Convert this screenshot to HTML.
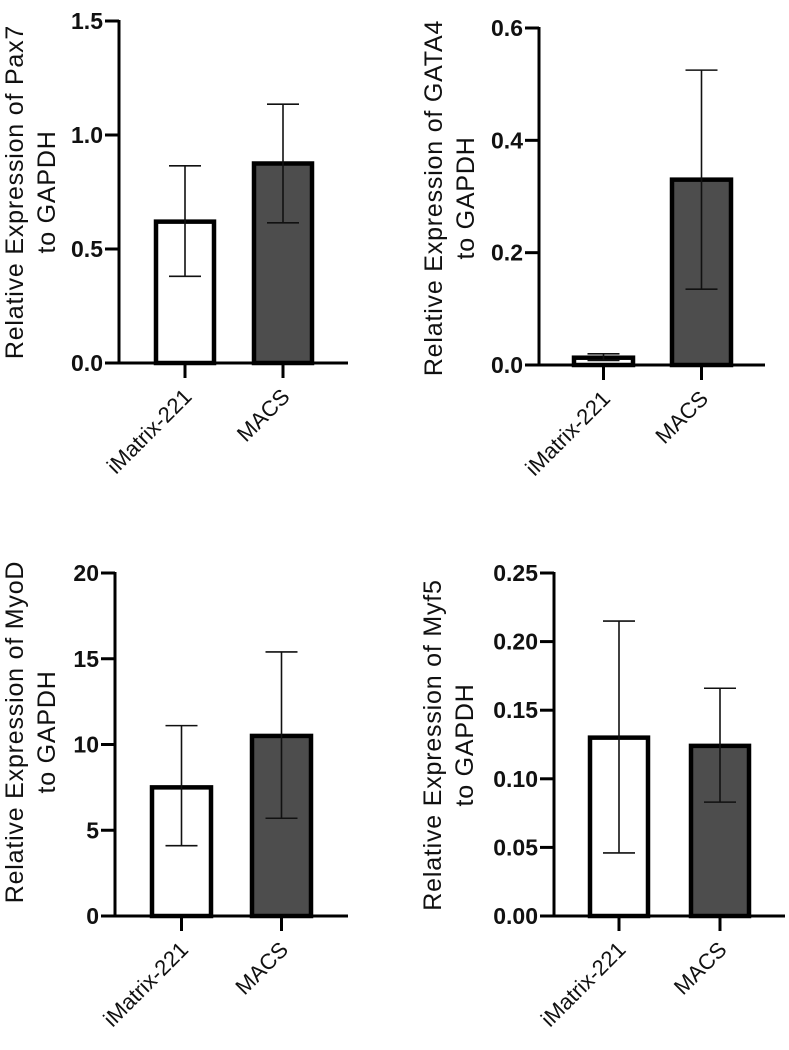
<!DOCTYPE html>
<html><head><meta charset="utf-8">
<style>
body{margin:0;background:#fff;}
svg{display:block;font-family:"Liberation Sans",Arial,sans-serif;}
</style></head>
<body>
<svg id="fig" width="789" height="1050" viewBox="0 0 789 1050"></svg>
<script>
const categories = ["iMatrix-221", "MACS"];
const pax7Means = [0.62, 0.875];
const pax7Low = [0.38, 0.615];
const pax7High = [0.865, 1.135];
const pax7Ticks = ["0.0", "0.5", "1.0", "1.5"];
const gata4Means = [0.013, 0.33];
const gata4Low = [0.008, 0.135];
const gata4High = [0.02, 0.525];
const gata4Ticks = ["0.0", "0.2", "0.4", "0.6"];
const myodMeans = [7.5, 10.5];
const myodLow = [4.1, 5.7];
const myodHigh = [11.1, 15.4];
const myodTicks = ["0", "5", "10", "15", "20"];
const myf5Means = [0.13, 0.124];
const myf5Low = [0.046, 0.083];
const myf5High = [0.215, 0.166];
const myf5Ticks = ["0.00", "0.05", "0.10", "0.15", "0.20", "0.25"];

const NS = "http://www.w3.org/2000/svg";
const svg = document.getElementById("fig");
function mk(tag, attrs, parent) {
  const e = document.createElementNS(NS, tag);
  for (const k in attrs) e.setAttribute(k, attrs[k]);
  parent.appendChild(e);
  return e;
}

function panel(cfg) {
  const g = mk("g", {}, svg);
  
  
  const ticks = cfg.ticks.map(Number);
  const ymax = ticks[ticks.length - 1];
  const y = v => cfg.y0 + (cfg.yTop - cfg.y0) * (v / ymax);
  cfg.means.forEach((m, i) => {
    const x0 = cfg.barX[i];
    const r = mk("rect", {x: x0 + 2, y: y(m), width: cfg.barW - 4, height: Math.max(0, cfg.y0 - y(m)),
      fill: i === 0 ? "#ffffff" : "#4d4d4d", stroke: "#000", "stroke-width": 4.5}, g);
    
    
    const cx = x0 + cfg.barW / 2;
    const eg = mk("g", {stroke: "#111", "stroke-width": 1.6, fill: "none"}, g);
    
    
    mk("line", {x1: cx, x2: cx, y1: y(cfg.low[i]), y2: y(cfg.high[i])}, eg);
    mk("line", {x1: cx - 16, x2: cx + 16, y1: y(cfg.high[i]), y2: y(cfg.high[i])}, eg);
    mk("line", {x1: cx - 16, x2: cx + 16, y1: y(cfg.low[i]), y2: y(cfg.low[i])}, eg);
  });
  const yax = mk("line", {x1: cfg.ax, x2: cfg.ax, y1: cfg.yTop - 1, y2: cfg.y0 + 1.5, stroke: "#000", "stroke-width": 3}, g);
  
  
  const xax = mk("line", {x1: cfg.ax - 14, x2: cfg.xEnd, y1: cfg.y0, y2: cfg.y0, stroke: "#000", "stroke-width": 3}, g);
  
  
  cfg.ticks.forEach((t, i) => {
    const ty = y(ticks[i]);
    mk("line", {x1: cfg.ax - 14, x2: cfg.ax, y1: ty, y2: ty, stroke: "#000", "stroke-width": 3}, g);
    const tx = mk("text", {x: cfg.ax - 16, y: ty + 8, "text-anchor": "end", "font-size": 23, "font-weight": "bold", fill: "#111"}, g);
    tx.textContent = t;
    
    
  });
  categories.forEach((c, i) => {
    const cx = cfg.barX[i] + cfg.barW / 2;
    mk("line", {x1: cx, x2: cx, y1: cfg.y0, y2: cfg.y0 + 15, stroke: "#000", "stroke-width": 3}, g);
    const lx = cx + 8, ly = cfg.y0 + 35;
    const t = mk("text", {x: lx, y: ly, "text-anchor": "end", "font-size": 22, fill: "#111",
      transform: "rotate(-45 " + lx + " " + ly + ")"}, g);
    t.textContent = c;
    
    
  });
  const tt = mk("text", {"text-anchor": "middle", "font-size": 25, "letter-spacing": "0.8", fill: "#111",
    transform: "translate(" + cfg.titleX + " " + cfg.titleY + ") rotate(-90)"}, g);
  
  
  mk("tspan", {x: 0, y: 0}, tt).textContent = "Relative Expression of " + cfg.gene;
  mk("tspan", {x: 0, y: 32}, tt).textContent = "to GAPDH";
}

panel({name: "pax7", gene: "Pax7", means: pax7Means, low: pax7Low, high: pax7High, ticks: pax7Ticks,
  ax: 119, y0: 363, yTop: 21, xEnd: 348, barX: [154, 252], barW: 62, titleX: 23, titleY: 192});
panel({name: "gata4", gene: "GATA4", means: gata4Means, low: gata4Low, high: gata4High, ticks: gata4Ticks,
  ax: 539, y0: 365, yTop: 28, xEnd: 765, barX: [572, 670], barW: 63, titleX: 442, titleY: 198});
panel({name: "myod", gene: "MyoD", means: myodMeans, low: myodLow, high: myodHigh, ticks: myodTicks,
  ax: 115, y0: 916, yTop: 573, xEnd: 348, barX: [150, 250], barW: 63, titleX: 23, titleY: 732});
panel({name: "myf5", gene: "Myf5", means: myf5Means, low: myf5Low, high: myf5High, ticks: myf5Ticks,
  ax: 554, y0: 916, yTop: 573, xEnd: 785, barX: [588, 689], barW: 62, titleX: 441, titleY: 745});
</script>
</body></html>
